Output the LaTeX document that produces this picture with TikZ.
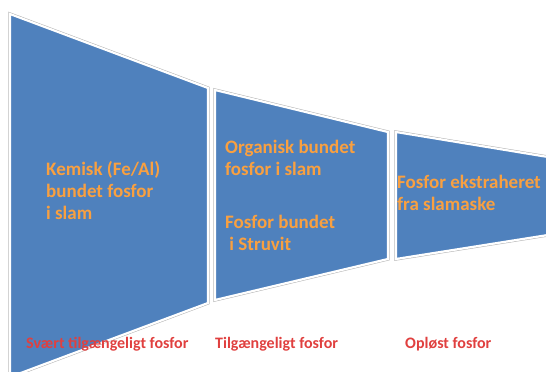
\documentclass[tikz,border=0pt]{standalone}
\usepackage{fontspec}
\setmainfont{Carlito}
\begin{document}
\begin{tikzpicture}[x=1pt,y=-1pt,
  panel/.style={fill=panelblue,draw=white,line width=2.2pt},
  paneledge/.style={draw=black!30,line width=0.4pt},
  inner/.style={text=txtorange,font=\bfseries\fontsize{19}{22}\selectfont,align=left,inner sep=0pt,anchor=west},
  lbl/.style={text=txtred,font=\bfseries\fontsize{16}{18}\selectfont,inner sep=0pt,anchor=west}]
\definecolor{panelblue}{HTML}{4F81BD}
\definecolor{txtorange}{HTML}{F9A040}
\definecolor{txtred}{HTML}{E0403F}
\useasboundingbox (0,0) rectangle (546,372);
\clip (0,0) rectangle (546,372);
% panels
\coordinate (a1) at (10,14); \coordinate (a2) at (208,88);
\coordinate (a3) at (208,303); \coordinate (a4) at (10,377);
\coordinate (b1) at (215,90); \coordinate (b2) at (388,132);
\coordinate (b3) at (388,259); \coordinate (b4) at (215,300);
\coordinate (c1) at (396,132); \coordinate (c2) at (548,157);
\coordinate (c3) at (548,235); \coordinate (c4) at (396,259);
\foreach \p in {a,b,c}{
  \draw[paneledge,line width=3.2pt] (\p1) -- (\p2) -- (\p3) -- (\p4) -- cycle;
  \draw[panel] (\p1) -- (\p2) -- (\p3) -- (\p4) -- cycle;
}
% texts
\node[inner] (t1) at (46,191) {Kemisk (Fe/Al)\\bundet fosfor\\i slam};
\node[inner] (t2) at (225,158) {Organisk bundet\\fosfor i slam};
\node[inner] (t3) at (225,233) {Fosfor bundet\\\ i Struvit};
\node[inner] (t4) at (397,193) {Fosfor ekstraheret\\fra slamaske};
% bottom labels
\node[lbl] (l1) at (26,344) {Svært tilgængeligt fosfor};
\node[lbl] (l2) at (215,344) {Tilgængeligt fosfor};
\node[lbl] (l3) at (405,344) {Opløst fosfor};
\end{tikzpicture}
\end{document}
